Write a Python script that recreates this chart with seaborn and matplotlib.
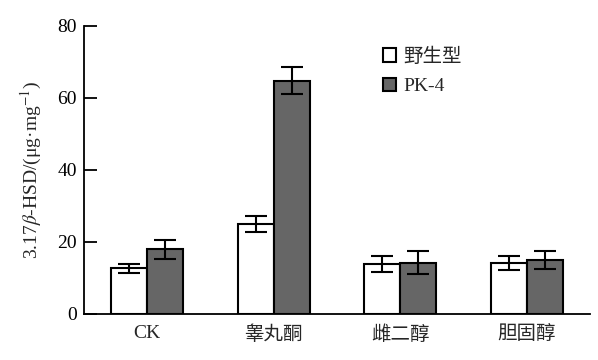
"""  3.17beta-HSD activity, wild type vs PK-4  """
import matplotlib
matplotlib.use('Agg')
import matplotlib.pyplot as plt
import numpy as np
import pandas as pd
import seaborn as sns

# ~~~~~~~~~  Data  ~~~~~~~~~ #
treatments = ['CK', '睾丸酮', '雌二醇', '胆固醇']
strains = ['野生型', 'PK-4']
wild_mean = [12.7, 25.0, 13.8, 14.2]
wild_err = [1.2, 2.2, 2.2, 2.0]
pk4_mean = [18.0, 64.8, 14.2, 15.0]
pk4_err = [2.6, 3.8, 3.2, 2.5]
y_ticks = [0, 20, 40, 60, 80]

df = pd.DataFrame({
    'treatment': treatments * 2,
    'strain': [strains[0]] * 4 + [strains[1]] * 4,
    'value': wild_mean + pk4_mean,
    'err': wild_err + pk4_err,
})

# ~~~~~~~~~  Style  ~~~~~~~~~ #
sns.set_style('white')
plt.rcParams['font.family'] = ['Liberation Serif', 'Noto Sans CJK SC']
plt.rcParams['mathtext.fontset'] = 'stix'

fig = plt.figure(figsize=(5.98, 3.6), dpi=100)
ax = fig.add_axes([0.1405, 0.1278, 0.8461, 0.8])

axes = sns.barplot(data=df, x='treatment', y='value', hue='strain',
                   order=treatments, hue_order=strains,
                   palette=['white', '#666666'], width=0.57,
                   edgecolor='black', linewidth=1.5, errorbar=None, ax=ax)

# error bars centred on each bar
for container, (_, sub) in zip(axes.containers, df.groupby('strain', sort=False)):
    xs = [bar.get_x() + bar.get_width() / 2 for bar in container]
    axes.errorbar(xs, sub['value'], yerr=sub['err'], fmt='none',
                  ecolor='black', elinewidth=1.5, capsize=8, capthick=1.5)

axes.set_ylim(0, 80)
axes.set_xlim(-0.5, 3.5)
axes.set_yticks(y_ticks)
axes.tick_params(axis='y', left=True, direction='in', length=9, width=1.3,
                 labelsize=14, pad=5, colors='black')
axes.tick_params(axis='x', bottom=False, length=0, labelsize=14, pad=8)
axes.set_xlabel('')
axes.set_ylabel(r'3.17$\beta$-HSD/(μg·mg$^{-1}$)', fontsize=14, labelpad=10)
sns.despine(ax=axes)
for side in ('left', 'bottom'):
    axes.spines[side].set_linewidth(1.3)
    axes.spines[side].set_color('black')

axes.legend(loc='upper left', bbox_to_anchor=(0.59, 0.925), frameon=False,
            borderpad=0, borderaxespad=0,
            handlelength=0.67, handleheight=0.67, handletextpad=0.4,
            labelspacing=0.6, fontsize=14)

fig.savefig('out.png', dpi=100)
